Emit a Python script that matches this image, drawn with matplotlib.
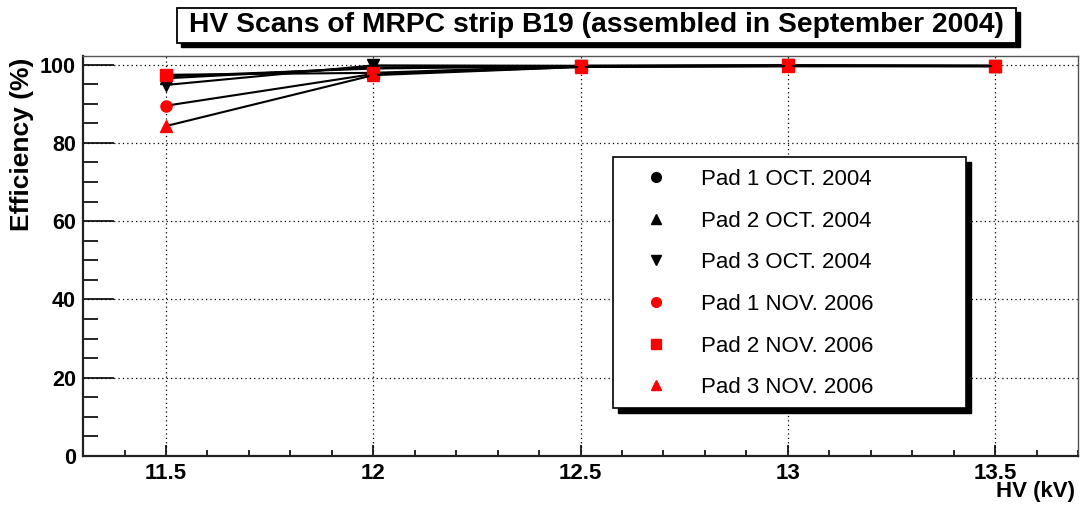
import matplotlib
matplotlib.use("Agg")
import matplotlib.pyplot as plt
from matplotlib.patches import Rectangle
from matplotlib.lines import Line2D
from matplotlib.ticker import MultipleLocator, FuncFormatter

plt.rcParams['font.family'] = ['Liberation Sans', 'DejaVu Sans']

# HV scan points (kV) and measured efficiencies (%)
hv = [11.5, 12.0, 12.5, 13.0, 13.5]
pad1_oct2004 = [97.0, 99.0, 99.6, 99.7, 99.6]
pad2_oct2004 = [96.5, 99.3, 99.6, 99.8, 99.7]
pad3_oct2004 = [94.8, 99.8, 99.7, 99.8, 99.7]
pad1_nov2006 = [89.5, 97.6, 99.4, 99.6, 99.6]
pad2_nov2006 = [97.4, 97.9, 99.7, 99.8, 99.7]
pad3_nov2006 = [84.3, 97.3, 99.4, 99.6, 99.6]

series_labels = ["Pad 1 OCT. 2004", "Pad 2 OCT. 2004", "Pad 3 OCT. 2004",
                 "Pad 1 NOV. 2006", "Pad 2 NOV. 2006", "Pad 3 NOV. 2006"]
title_text = "HV Scans of MRPC strip B19 (assembled in September 2004)"

series = [pad1_oct2004, pad2_oct2004, pad3_oct2004,
          pad1_nov2006, pad2_nov2006, pad3_nov2006]
styles = [("o", "black", 8), ("^", "black", 8), ("v", "black", 8),
          ("o", "red", 8), ("s", "red", 8), ("^", "red", 8)]

fig = plt.figure(figsize=(10.8, 5.05), dpi=100)
ax = fig.add_axes([0.0769, 0.0970, 0.9213, 0.7921])

for vals, (mk, col, ms) in zip(series, styles):
    ax.plot(hv, vals, color="black", lw=1.5, marker=mk, markersize=ms,
            markerfacecolor=col, markeredgecolor=col, zorder=3)

ax.set_xlim(11.3, 13.7)
ax.set_ylim(0, 102.2)
ax.xaxis.set_major_locator(MultipleLocator(0.5))
ax.xaxis.set_minor_locator(MultipleLocator(0.1))
ax.yaxis.set_major_locator(MultipleLocator(20))
ax.yaxis.set_minor_locator(MultipleLocator(5))
ax.xaxis.set_major_formatter(FuncFormatter(lambda v, p: "%g" % v))
ax.yaxis.set_major_formatter(FuncFormatter(lambda v, p: "%g" % v))

ax.tick_params(axis="y", which="major", direction="in", length=22, width=1.2,
               pad=5, labelsize=15.5)
ax.tick_params(axis="y", which="minor", direction="in", length=11, width=1.2)
ax.tick_params(axis="x", which="major", direction="in", length=8, width=1.2,
               pad=5, labelsize=16)
ax.tick_params(axis="x", which="minor", direction="in", length=4, width=1.2)
for lab in ax.get_xticklabels() + ax.get_yticklabels():
    lab.set_fontweight("bold")

ax.grid(True, which="major", color="black", linestyle=(0, (1, 2.5)), lw=0.9)
ax.set_axisbelow(True)

for side in ("left", "bottom"):
    ax.spines[side].set_linewidth(1.6)
    ax.spines[side].set_color("#222222")
for side in ("top", "right"):
    ax.spines[side].set_linewidth(1.0)
    ax.spines[side].set_color("#555555")

# legend frame with a solid drop shadow
lx0, lx1, ly0, ly1 = 0.5331, 0.8876, 0.12, 0.7475
ax.add_patch(Rectangle((lx0 + 0.005, ly0 - 0.0125), lx1 - lx0, ly1 - ly0,
                       transform=ax.transAxes, facecolor="black",
                       edgecolor="black", zorder=5))
ax.add_patch(Rectangle((lx0, ly0), lx1 - lx0, ly1 - ly0,
                       transform=ax.transAxes, facecolor="white",
                       edgecolor="black", lw=1.2, zorder=6))
handles = [Line2D([], [], linestyle="none", marker=mk, markersize=ms - 1,
                  markerfacecolor=col, markeredgecolor=col)
           for mk, col, ms in styles]
leg = ax.legend(handles, series_labels, loc="center left",
                bbox_to_anchor=(0.565, 0.431), frameon=False,
                fontsize=16, handlelength=1.0, handletextpad=1.5,
                labelspacing=0.93, borderpad=0, borderaxespad=0)
leg.set_zorder(7)

# title box with drop shadow
tx0, tw, ty0, th = 0.1639, 0.7769, 0.9149, 0.0693
fig.patches.append(Rectangle((tx0 + 0.0037, ty0 - 0.0079), tw, th,
                             transform=fig.transFigure, facecolor="black",
                             edgecolor="black", zorder=1))
fig.patches.append(Rectangle((tx0, ty0), tw, th, transform=fig.transFigure,
                             facecolor="white", edgecolor="black", lw=1.3,
                             zorder=2))
fig.text(tx0 + tw / 2, ty0 + th / 2, title_text, ha="center", va="center",
         fontsize=20.3, fontweight="bold", zorder=3)

fig.text(0.020, 1 - 58 / 505, "Efficiency (%)", rotation=90, ha="center",
         va="top", fontsize=19, fontweight="bold")
fig.text(0.995, 0.026, "HV (kV)", ha="right", va="center", fontsize=16,
         fontweight="bold")

fig.savefig("out.png", dpi=100)
